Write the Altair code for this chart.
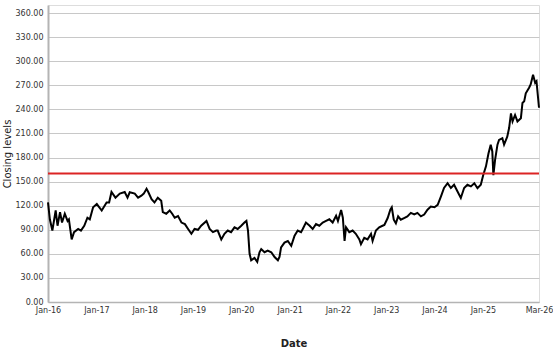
import altair as alt
import pandas as pd

dates = [
    "2016-01-01", "2016-01-15", "2016-02-03", "2016-02-28", "2016-03-13", "2016-04-01",
    "2016-04-16", "2016-05-07", "2016-05-28", "2016-06-07", "2016-06-28", "2016-07-16",
    "2016-08-16", "2016-09-06", "2016-10-01", "2016-10-25", "2016-11-12", "2016-12-07",
    "2017-01-04", "2017-02-10", "2017-03-19", "2017-04-07", "2017-04-25", "2017-05-25",
    "2017-06-27", "2017-08-03", "2017-08-24", "2017-09-10", "2017-10-18", "2017-11-12",
    "2017-12-07", "2017-12-25", "2018-01-15", "2018-01-28", "2018-02-22", "2018-03-16",
    "2018-04-10", "2018-05-06", "2018-05-18", "2018-06-13", "2018-07-09", "2018-07-28",
    "2018-08-16", "2018-09-10", "2018-10-06", "2018-11-01", "2018-11-25", "2018-12-20",
    "2019-01-13", "2019-02-08", "2019-03-04", "2019-04-13", "2019-05-07", "2019-06-01",
    "2019-06-26", "2019-07-07", "2019-08-03", "2019-08-27", "2019-09-21", "2019-10-16",
    "2019-11-11", "2019-12-05", "2020-01-01", "2020-01-25", "2020-02-09", "2020-02-21",
    "2020-03-04", "2020-03-16", "2020-04-10", "2020-05-01", "2020-05-18", "2020-05-31",
    "2020-06-25", "2020-07-19", "2020-08-15", "2020-09-09", "2020-10-04", "2020-10-16",
    "2020-10-28", "2020-11-23", "2020-12-18", "2021-01-13", "2021-02-07", "2021-03-03",
    "2021-03-28", "2021-04-10", "2021-05-04", "2021-06-01", "2021-06-24", "2021-07-19",
    "2021-08-13", "2021-09-08", "2021-10-03", "2021-10-28", "2021-11-22", "2021-12-18",
    "2022-01-01", "2022-01-25", "2022-02-07", "2022-02-20", "2022-03-03", "2022-03-28",
    "2022-04-22", "2022-05-16", "2022-06-12", "2022-06-24", "2022-07-19", "2022-08-13",
    "2022-09-08", "2022-09-20", "2022-10-15", "2022-11-09", "2022-12-04", "2022-12-18",
    "2023-01-12", "2023-02-01", "2023-02-12", "2023-02-27", "2023-03-15", "2023-04-01",
    "2023-04-21", "2023-05-16", "2023-06-10", "2023-07-06", "2023-08-01", "2023-08-25",
    "2023-09-20", "2023-10-15", "2023-11-09", "2023-12-04", "2024-01-01", "2024-01-25",
    "2024-02-19", "2024-03-13", "2024-04-09", "2024-05-04", "2024-05-28", "2024-06-22",
    "2024-07-18", "2024-08-12", "2024-09-06", "2024-10-02", "2024-10-28", "2024-11-21",
    "2024-12-16", "2025-01-03", "2025-01-24", "2025-02-12", "2025-03-01", "2025-03-13",
    "2025-03-21", "2025-04-03", "2025-04-21", "2025-05-03", "2025-05-28", "2025-06-10",
    "2025-07-04", "2025-07-18", "2025-08-01", "2025-08-13", "2025-09-01", "2025-09-19",
    "2025-10-15", "2025-10-27", "2025-11-09", "2025-11-21", "2025-12-16", "2025-12-28",
    "2026-01-15", "2026-01-31", "2026-02-10", "2026-03-01",
]

closing = [
    124, 103, 89, 114, 95, 112,
    99, 110, 101, 103, 78, 87,
    91, 89, 95, 105, 103, 118,
    122, 114, 124, 124, 137, 130,
    135, 137, 130, 136.7, 135, 130,
    132.5, 135, 141, 137, 128, 124,
    130, 126, 112, 110, 114, 110,
    105, 107, 99, 97, 91, 85,
    91, 90, 95, 101, 91, 87,
    89, 89, 78, 85, 89, 87,
    93, 91, 95, 99, 101, 89,
    60, 52, 55, 50, 62, 66,
    62, 64, 62, 56, 52, 56,
    68, 74, 76, 70, 82.5, 89,
    87, 91, 99, 95, 91, 97,
    95, 99, 101, 103, 99, 107.5,
    101, 114.6, 105, 76, 93, 87,
    89, 85, 78, 72, 80, 78,
    85, 76, 89, 93, 95, 96,
    104.6, 115, 118, 102.5, 98, 106.7,
    102.5, 104.6, 106.7, 111, 109, 111,
    106.7, 109, 115, 119, 118, 121,
    131.7, 142, 148, 142, 146, 138,
    129.6, 142, 146, 144, 148, 141.7,
    146, 158, 169, 185, 196, 187.5,
    158, 177, 196, 202, 204, 196,
    206, 216.7, 235, 225, 233, 225,
    229, 248, 250, 260, 267, 271,
    283, 273, 275, 242,
]

threshold = [160]
y_ticks = [0, 30, 60, 90, 120, 150, 180, 210, 240, 270, 300, 330, 360]
x_tick_dates = [(2016, 1), (2017, 1), (2018, 1), (2019, 1), (2020, 1), (2021, 1),
                (2022, 1), (2023, 1), (2024, 1), (2025, 1), (2026, 3)]

df = pd.DataFrame({"Date": pd.to_datetime(dates), "Close": closing})
df_thr = pd.DataFrame({"level": threshold})

x_vals = [alt.DateTime(year=y, month=m, date=1) for y, m in x_tick_dates]

x_enc = alt.X(
    "Date:T",
    title="Date",
    scale=alt.Scale(domain=[alt.DateTime(year=2016, month=1, date=1),
                            alt.DateTime(year=2026, month=3, date=1)], nice=False),
    axis=alt.Axis(values=x_vals, tickCount=len(x_vals) + 2, format="%b-%y",
                  grid=False, ticks=False,
                  labelPadding=4, labelFontSize=8, labelColor="#333333",
                  labelFont="DejaVu Sans", labelOverlap=False, labelFlush=False,
                  labelBound=False,
                  domainColor="#b4b4b4", domainWidth=1.5,
                  titleFont="DejaVu Sans", titleFontSize=10, titleFontWeight="bold",
                  titleColor="#222222", titlePadding=24),
)

y_enc = alt.Y(
    "Close:Q",
    title="Closing levels",
    scale=alt.Scale(domain=[0, 370], nice=False),
    axis=alt.Axis(values=y_ticks, tickCount=len(y_ticks) + 2, format=".2f",
                  grid=True, gridColor="#c8c8c8",
                  gridWidth=1, ticks=False, labelPadding=5, labelFontSize=8,
                  labelColor="#333333", labelFont="DejaVu Sans",
                  labelOverlap=False, labelFlush=False, labelBound=False,
                  domainColor="#b4b4b4", domainWidth=2,
                  titleFont="DejaVu Sans", titleFontSize=10, titleFontWeight="normal",
                  titleColor="#222222", titlePadding=3),
)

line = alt.Chart(df).mark_line(color="black", strokeWidth=2).encode(x=x_enc, y=y_enc)

rule = alt.Chart(df_thr).mark_rule(color="#dc2424", strokeWidth=2).encode(
    y=alt.Y("level:Q")
)

chart = (
    alt.layer(line, rule)
    .properties(width=491, height=297, autosize="none",
                padding={"left": 48, "top": 5, "right": 14, "bottom": 50})
    .configure_view(stroke="#c4c4c4", strokeWidth=1)
    .configure(background="white")
)

chart.save("out.html", embed_options={"renderer": "svg", "actions": False})
